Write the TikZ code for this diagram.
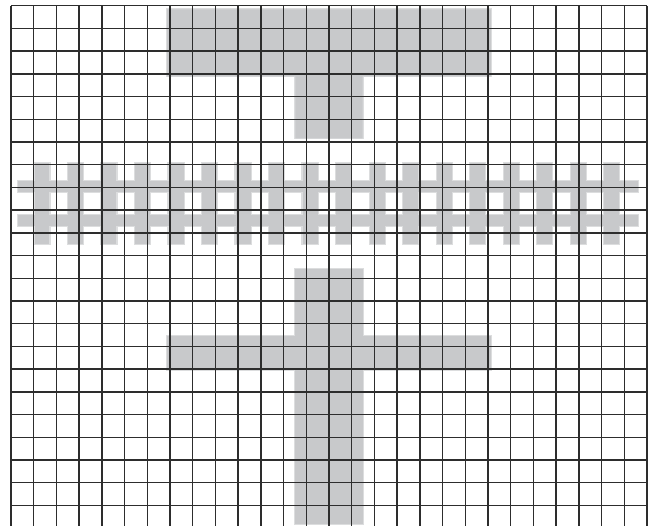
\documentclass[tikz,border=0pt]{standalone}
\definecolor{shade}{RGB}{200,201,203}
\definecolor{fringe}{RGB}{220,221,222}
\definecolor{gridc}{RGB}{45,45,45}
\tikzset{
  blockfill/.style={fill=shade},
  blockedge/.style={draw=fringe, line width=0.09cm, line join=miter},
  gridline/.style={draw=gridc, line width=1.75pt}
}
\begin{document}
\begin{tikzpicture}
\useasboundingbox (-0.484,0.251) rectangle (28.396,-22.906);
% shapes: fringe first, then fill
\def\topT{(6.87,-0.16) -- (21.13,-0.16) -- (21.13,-3.11) -- (15.48,-3.11) -- (15.48,-5.84) -- (12.52,-5.84) -- (12.52,-3.11) -- (6.87,-3.11) -- cycle}
\def\crossV{(12.52,-11.58) rectangle (15.48,-22.80)}
\def\crossH{(6.87,-14.56) rectangle (21.13,-16.05)}
\def\railA{(0.33,-7.73) rectangle (27.62,-8.18)}
\def\railB{(0.33,-9.23) rectangle (27.62,-9.68)}
\path[blockedge] \topT;
\path[blockedge] \crossV;
\path[blockedge] \crossH;
\path[blockedge] \railA;
\path[blockedge] \railB;
\foreach \k in {0,...,17}{
  \pgfmathsetmacro{\cx}{1.365+\k*1.4749}
  \path[blockedge] (\cx-0.33,-6.91) rectangle (\cx+0.33,-10.48);
}
\path[blockfill] \topT;
\path[blockfill] \crossV;
\path[blockfill] \crossH;
\path[blockfill] \railA;
\path[blockfill] \railB;
\foreach \k in {0,...,17}{
  \pgfmathsetmacro{\cx}{1.365+\k*1.4749}
  \path[blockfill] (\cx-0.33,-6.91) rectangle (\cx+0.33,-10.48);
}
% grid
\foreach \i in {0,...,28}{
  \draw[gridline] (\i,0) -- (\i,-22.906);
}
\foreach \j in {0,...,22}{
  \draw[gridline] (0,-\j) -- (28,-\j);
}
\end{tikzpicture}
\end{document}
